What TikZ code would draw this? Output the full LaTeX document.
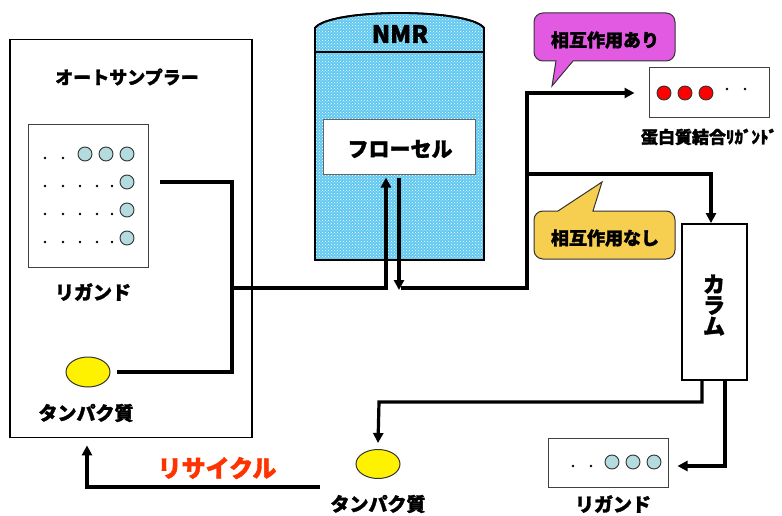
\documentclass[tikz,border=0pt]{standalone}
\usepackage{fontspec}
\newfontfamily\jp{Noto Sans CJK JP}[BoldFeatures={FakeBold=1.6}]
\usetikzlibrary{arrows.meta,shapes.geometric,patterns}
\definecolor{nmrblue}{RGB}{95,200,240}
\definecolor{ligblue}{RGB}{180,220,222}
\definecolor{calloutpink}{RGB}{226,90,226}
\definecolor{calloutyellow}{RGB}{246,206,80}
\definecolor{recyclered}{RGB}{255,51,0}
\tikzset{
  box/.style={draw=black, line width=1.8pt, fill=white, inner sep=0},
  thinbox/.style={draw=black!75, line width=1pt, fill=white, inner sep=0},
  conn/.style={line width=3.2pt},
  arr/.style={conn, -{Triangle[length=10pt,width=10pt]}},
  lbl/.style={font=\jp\bfseries\fontsize{19}{19}\selectfont, inner sep=0},
  ligball/.style={circle, draw=black!80, fill=ligblue, line width=0.9pt, minimum size=14, inner sep=0},
  redball/.style={circle, draw=black!80, fill=red, line width=0.9pt, minimum size=14, inner sep=0},
  tinydot/.style={circle, fill=black, minimum size=2.6, inner sep=0},
  yellowegg/.style={ellipse, draw=black!80, fill=yellow, line width=1pt, minimum width=44, minimum height=30, inner sep=0},
  speckle/.style={pattern=crosshatch dots, pattern color=white},
}
\begin{document}
\begin{tikzpicture}[x=1pt,y=-1pt]
\useasboundingbox[fill=white] (0,0) rectangle (782,516);

% ---------- autosampler ----------
\node[box, minimum width=242, minimum height=398] (auto) at (131,238.5) {};
\node[lbl, font=\jp\bfseries\fontsize{18}{18}\selectfont] (autot) at (127,77) {オートサンプラー};
\node[thinbox, minimum width=120, minimum height=142] (rack) at (88,196) {};
\foreach \x [count=\i] in {85,106,127} \node[ligball] (ra\i) at (\x,154) {};
\foreach \x [count=\i] in {45,63} \node[tinydot] (rad\i) at (\x,158) {};
\foreach \y [count=\j] in {182,210,238} {
  \node[ligball] (rb\j) at (127,\y) {};
  \foreach \x [count=\i] in {45,63,80,97,112} \node[tinydot] (rbd\j\i) at (\x,\y+4) {};
}
\node[lbl] (ligt1) at (93,292) {リガンド};
\node[yellowegg] (prot1) at (88,372) {};
\node[lbl] (prott1) at (86,413) {タンパク質};

% ---------- NMR ----------
\draw[line width=1.8pt, fill=nmrblue] (315,260) -- (315,28) .. controls (330,8) and (469,8) .. (484,28) -- (484,260) -- cycle;
\fill[speckle] (315,260) -- (315,28) .. controls (330,8) and (469,8) .. (484,28) -- (484,260) -- cycle;
\draw[line width=1.8pt] (315,260) -- (315,28) .. controls (330,8) and (469,8) .. (484,28) -- (484,260) -- cycle;
\draw[line width=1.8pt] (315,52) -- (484,52);
\node[lbl, font=\jp\bfseries\fontsize{24}{24}\selectfont] (nmrt) at (400,34) {NMR};
\node[thinbox, draw=black!60, minimum width=152, minimum height=55] (cell) at (399,147.5) {};
\node[lbl, font=\jp\bfseries\fontsize{21}{21}\selectfont] (cellt) at (400,149) {フローセル};

% ---------- callouts ----------
\draw[draw=black!80, line width=1pt, fill=calloutpink]
  (573,61) -- (552,86) -- (556,61) [rounded corners=9] -- (534,61) -- (534,13) -- (675,13) -- (675,61) [sharp corners] -- cycle;
\node[lbl, font=\jp\bfseries\fontsize{18}{18}\selectfont] (ari) at (605,40) {相互作用あり};
\draw[draw=black!80, line width=1pt, fill=calloutyellow]
  (593,211) -- (602,182) -- (558,211) [rounded corners=9] -- (534,211) -- (534,259) -- (675,259) -- (675,211) [sharp corners] -- cycle;
\node[lbl, font=\jp\bfseries\fontsize{18}{18}\selectfont] (nashi) at (605,238) {相互作用なし};

% ---------- protein-bound ligands ----------
\node[thinbox, minimum width=120, minimum height=50] (bound) at (709,93) {};
\foreach \x [count=\i] in {664,685,706} \node[redball] (rr\i) at (\x,93) {};
\foreach \x [count=\i] in {727,745} \node[tinydot] (rrd\i) at (\x,89) {};
\node[lbl, font=\jp\bfseries\fontsize{17}{17}\selectfont] (boundt) at (709,137) {蛋白質結合ﾘｶﾞﾝﾄﾞ};

% ---------- column ----------
\node[box, minimum width=65, minimum height=156] (column) at (714.5,302) {};
\node[lbl, font=\jp\bfseries\fontsize{22}{22}\selectfont, align=center] (colt) at (714,305) {カ\\[-1pt]ラ\\[-1pt]ム};

% ---------- outputs ----------
\node[yellowegg, minimum height=29] (prot2) at (378,464) {};
\node[lbl] (prott2) at (378,504) {タンパク質};
\node[thinbox, minimum width=120, minimum height=49] (lig2) at (608,462.5) {};
\foreach \x [count=\i] in {612,633,654} \node[ligball] (lo\i) at (\x,462) {};
\foreach \x [count=\i] in {573,591} \node[tinydot] (lod\i) at (\x,466) {};
\node[lbl] (ligt2) at (613,504) {リガンド};
\node[lbl, text=recyclered, font=\jp\bfseries\fontsize{24}{24}\selectfont] (recyt) at (217,468) {リサイクル};

% ---------- connectors ----------
\coordinate (rackout) at (160,182);
\coordinate (protout) at (117,372);
\coordinate (j1) at (232,182);
\coordinate (j2) at (232,372);
\coordinate (jmid) at (232,288);
\draw[conn] (rackout) -- (j1) -- (j2) -- (protout);
\draw[arr] (jmid) -| ([xshift=-13pt,yshift=-2pt]cell.south);
\coordinate (celldown) at (399,290);
\draw[arr] ([yshift=-3pt]cell.south) -- (celldown);
\coordinate (r0) at (401,288);
\coordinate (r1) at (527,288);
\coordinate (r2) at (527,93);
\coordinate (rb) at (527,174);
\draw[conn] (r0) -- (r1) -- (r2);
\draw[arr] ([xshift=-1.6pt]r2) -- ([xshift=-14pt]bound.west);
\draw[arr] ([xshift=-1.6pt]rb) -| ([xshift=-3.5pt]column.north);
\coordinate (c1) at (702,380);
\coordinate (c2) at (379,402);
\draw[arr] (c1) |- (c2) -- ([yshift=6pt]prot2.north);
\coordinate (c3) at (725,380);
\coordinate (c4) at (725,466);
\draw[arr] (c3) -- (c4) -- ([xshift=9pt,yshift=-3.5pt]lig2.east);
\coordinate (rec0) at (320,487);
\coordinate (rec1) at (87,487);
\draw[arr] (rec0) -- (rec1) -- ([yshift=-7pt]auto.south -| rec1);
\end{tikzpicture}
\end{document}
